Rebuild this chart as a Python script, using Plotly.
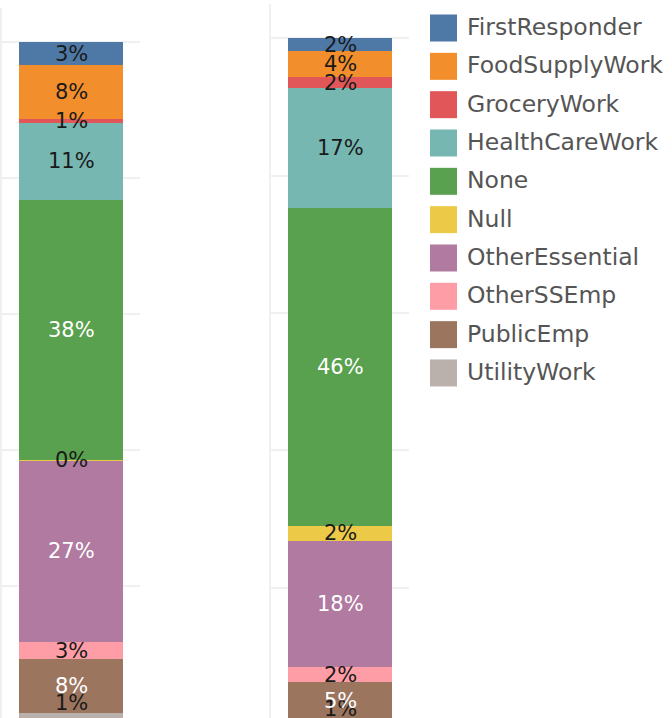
import plotly.graph_objects as go

# ---- data ----
categories = ["FirstResponder", "FoodSupplyWork", "GroceryWork", "HealthCareWork", "None",
              "Null", "OtherEssential", "OtherSSEmp", "PublicEmp", "UtilityWork"]
left_values = [3.4, 7.9, 0.6, 11.3, 38.2, 0.2, 26.6, 2.6, 7.9, 1.3]
right_values = [1.8, 3.9, 1.6, 17.4, 46.3, 2.2, 18.4, 2.2, 5.3, 0.9]

# ---- styling ----
colors = ["#4e79a7", "#f28e2b", "#e15759", "#76b7b2", "#59a14f",
          "#edc948", "#b07aa1", "#ff9da7", "#9c755f", "#bab0ac"]
label_colors = ["#1a1a1a", "#1a1a1a", "#1a1a1a", "#1a1a1a", "#ffffff",
                "#1a1a1a", "#ffffff", "#1a1a1a", "#ffffff", "#1a1a1a"]
FONT = "DejaVu Sans"
W, H = 672, 718
GRID = "#f0f0f0"
BOTTOM_LABEL_LIFT = 1.5  # bottom label sits just above its thin segment

fig = go.Figure()
annotations = []

panes = [("x", "y", left_values), ("x2", "y2", right_values)]
for xa, ya, vals in panes:
    base = 0.0
    for i in reversed(range(len(categories))):
        fig.add_trace(go.Bar(
            x=[0], y=[vals[i]], xaxis=xa, yaxis=ya,
            name=categories[i], width=0.755,
            marker=dict(color=colors[i], line=dict(width=0)),
            showlegend=False, hoverinfo="skip",
        ))
        last = (i == len(categories) - 1)
        ypos = (base + vals[i] + BOTTOM_LABEL_LIFT) if last else (base + vals[i] / 2)
        annotations.append(dict(
            x=0, y=ypos, xref=xa, yref=ya, text=f"{vals[i]:.0f}%", showarrow=False,
            xanchor="center", yanchor="middle",
            font=dict(size=21, color=label_colors[i], family=FONT),
        ))
        base += vals[i]

# custom legend drawn on its own axis
n = len(categories)
leg_y = [28 + k * 38.33 for k in range(n)]
fig.add_trace(go.Scatter(
    x=[443.5] * n, y=leg_y, xaxis="x3", yaxis="y3", mode="markers",
    marker=dict(symbol="square", size=27, color=colors, line=dict(width=0)),
    showlegend=False, hoverinfo="skip",
))
fig.add_trace(go.Scatter(
    x=[467] * n, y=[v + 1 for v in leg_y], xaxis="x3", yaxis="y3", mode="text",
    text=categories, textposition="middle right",
    textfont=dict(size=23.5, color="#555555", family=FONT),
    showlegend=False, hoverinfo="skip",
))

yax_common = dict(showgrid=True, gridcolor=GRID, gridwidth=2, dtick=20, tick0=0,
                  showticklabels=False, zeroline=False, ticks="",
                  showline=True, linecolor=GRID, linewidth=2, fixedrange=True)
xax_common = dict(range=[-0.5, 0.5], showgrid=False, zeroline=False,
                  showticklabels=False, showline=False, ticks="", fixedrange=True)

fig.update_layout(
    width=W, height=H,
    margin=dict(l=0, r=0, t=0, b=0),
    paper_bgcolor="white", plot_bgcolor="rgba(0,0,0,0)",
    barmode="stack", bargap=0,
    font=dict(family=FONT),
    annotations=annotations,
    xaxis=dict(domain=[2 / W, 140 / W], anchor="y", **xax_common),
    yaxis=dict(domain=[0, 1 - 8 / H], anchor="x", range=[0.59, 105], **yax_common),
    xaxis2=dict(domain=[271 / W, 409 / W], anchor="y2", **xax_common),
    yaxis2=dict(domain=[0, 1 - 4 / H], anchor="x2", range=[1.02, 105], **yax_common),
    xaxis3=dict(domain=[420 / W, 1], anchor="y3", range=[420, 672], visible=False, fixedrange=True),
    yaxis3=dict(domain=[0, 1], anchor="x3", range=[718, 0], visible=False, fixedrange=True),
)

fig.write_html(
    "out.html",
    config={"displayModeBar": False, "staticPlot": True},
    post_script="document.body.style.margin='0';document.body.style.overflow='hidden';",
)
